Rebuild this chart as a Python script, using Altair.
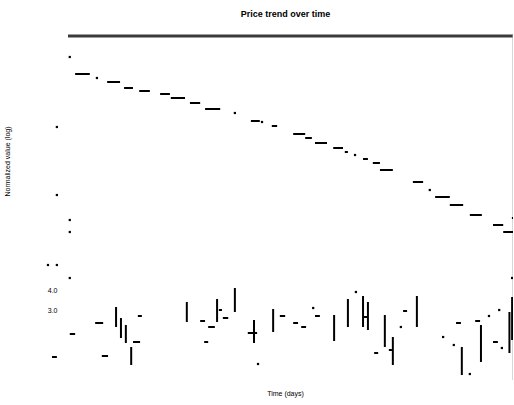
import altair as alt
import pandas as pd

# Falling trend, drawn as short horizontal steps
trend_x1 = [1.6, 8.8, 12.6, 16.0, 20.7, 23.1, 27.4, 30.8, 41.1, 45.8, 50.6, 53.3,
            55.5, 59.6, 62.2, 66.3, 68.5, 70.1, 77.5, 82.5, 85.8, 90.3, 95.5, 97.8]
trend_x2 = [4.9, 11.7, 14.6, 18.4, 22.9, 26.3, 29.7, 34.2, 43.1, 47.0, 53.3, 54.8,
            58.2, 61.8, 62.9, 67.4, 70.1, 73.0, 79.8, 85.8, 88.8, 93.0, 97.8, 100.0]
trend_y = [14.8, 14.4, 14.1, 13.95, 13.8, 13.6, 13.35, 13.05, 12.45, 12.2, 11.8, 11.6,
           11.35, 11.1, 10.9, 10.55, 10.35, 10.0, 9.4, 8.65, 8.25, 7.75, 7.25, 6.9]

# Lower band: vertical ranges
range_x = [10.8, 11.9, 13.0, 14.2, 26.7, 33.5, 37.5, 41.8, 46.1, 59.8, 62.9, 66.3,
           67.4, 71.2, 73.0, 78.4, 88.5, 92.8, 99.2, 99.8]
range_lo = [2.15, 1.6, 1.35, 0.25, 2.4, 2.4, 2.9, 1.35, 1.9, 1.45, 2.15, 2.15,
            2.0, 1.15, 0.25, 2.15, -0.25, 0.4, 0.85, 1.5]
range_hi = [3.15, 2.6, 2.25, 1.15, 3.4, 3.55, 4.1, 2.5, 3.05, 2.75, 3.55, 3.7,
            3.4, 2.75, 1.65, 3.7, 1.15, 2.25, 2.9, 3.65]

# Lower band: short dashes
dash_x1 = [0.4, 6.1, 15.7, 14.6, 7.6, 29.7, 31.5, 33.9, 34.8, 30.6, 40.4, 47.6,
           50.6, 52.4, 55.5, 66.3, 68.8, 72.1, 75.3, 87.2, 91.5, 95.5, -3.6]
dash_x2 = [1.6, 7.9, 16.6, 16.2, 9.0, 30.8, 33.0, 34.6, 36.0, 31.5, 42.5, 48.8,
           51.7, 53.5, 56.6, 67.4, 69.7, 72.8, 76.2, 88.3, 92.6, 96.6, -2.5]
dash_y = [1.8, 2.35, 2.7, 1.4, 0.7, 2.45, 2.15, 3.0, 2.6, 1.4, 1.85, 2.7,
          2.35, 2.15, 2.7, 2.65, 0.85, 1.0, 2.95, 2.35, 2.45, 1.4, 0.65]

# Isolated points
dot_x = [0.4, 6.5, 37.5, 43.6, 64.5, 81.3, 100.0,
         0.4, 0.4, 0.4, 42.7, 55.1, 64.7, 74.8, 84.3, 86.7, 90.3, 94.6, 96.9,
         97.5, 99.8, -2.5, -2.5, -4.5, -2.5]
dot_y = [15.65, 14.6, 12.85, 12.4, 10.75, 9.0, 7.6,
         4.6, 7.5, 6.9, 0.3, 3.1, 3.9, 2.15, 1.65, 1.25, -0.2, 2.7, 3.0,
         1.1, 4.6, 12.15, 8.75, 5.25, 5.25]

ceiling_y = 16.7
x_domain = [0, 100]
y_domain = [-0.5, 16.75]
y_tick_values = [3, 4]

trend = pd.DataFrame({"x1": trend_x1, "x2": trend_x2, "y": trend_y})
ranges = pd.DataFrame({"x": range_x, "lo": range_lo, "hi": range_hi})
dashes = pd.DataFrame({"x1": dash_x1, "x2": dash_x2, "y": dash_y})
dots = pd.DataFrame({"x": dot_x, "y": dot_y})
ceiling = pd.DataFrame({"x1": [x_domain[0]], "x2": [x_domain[1]], "y": [ceiling_y]})
edge = pd.DataFrame({"x": [x_domain[1]], "lo": [y_domain[0]], "hi": [y_domain[1]]})

FONT = "Liberation Sans"
xs = alt.Scale(domain=x_domain, nice=False, zero=False)
ys = alt.Scale(domain=y_domain, nice=False, zero=False)
xa = alt.Axis(labels=False, ticks=False, domain=False, grid=False,
              title="Time (days)", titleFontSize=7, titleFont=FONT, titleColor="black",
              titleFontWeight="normal", titlePadding=9, titleX=217)
ya = alt.Axis(values=y_tick_values, format=".1f", labelFontSize=7, labelFont=FONT,
              labelColor="black", ticks=False, tickSize=0, domain=False, grid=False,
              labelPadding=11, title="Normalized value (log)", titleFontSize=7,
              titleFont=FONT, titleColor="black", titleFontWeight="normal",
              titleX=-58, titleY=126)

ceiling_line = alt.Chart(ceiling).mark_rule(color="#3a3a3a", strokeWidth=3).encode(
    x=alt.X("x1:Q", scale=xs, axis=xa), x2="x2:Q",
    y=alt.Y("y:Q", scale=ys, axis=ya))

edge_line = alt.Chart(edge).mark_rule(color="#b0b0b0", strokeWidth=1).encode(
    x=alt.X("x:Q", scale=xs, axis=xa),
    y=alt.Y("lo:Q", scale=ys, axis=ya), y2="hi:Q")

trend_steps = alt.Chart(trend).mark_rule(color="black", strokeWidth=2).encode(
    x=alt.X("x1:Q", scale=xs, axis=xa), x2="x2:Q",
    y=alt.Y("y:Q", scale=ys, axis=ya))

range_bars = alt.Chart(ranges).mark_rule(color="black", strokeWidth=2).encode(
    x=alt.X("x:Q", scale=xs, axis=xa),
    y=alt.Y("lo:Q", scale=ys, axis=ya), y2="hi:Q")

dash_marks = alt.Chart(dashes).mark_rule(color="black", strokeWidth=2).encode(
    x=alt.X("x1:Q", scale=xs, axis=xa), x2="x2:Q",
    y=alt.Y("y:Q", scale=ys, axis=ya))

dot_marks = alt.Chart(dots).mark_square(color="black", size=5, opacity=1).encode(
    x=alt.X("x:Q", scale=xs, axis=xa),
    y=alt.Y("y:Q", scale=ys, axis=ya))

chart = alt.layer(
    ceiling_line, edge_line, trend_steps, range_bars, dash_marks, dot_marks
).properties(
    width=445, height=345,
    background="white",
    title=alt.TitleParams("Price trend over time", fontSize=9, fontWeight="bold",
                          font=FONT, color="black", anchor="middle", offset=16, dx=-5),
    autosize=alt.AutoSizeParams(type="none"),
    padding={"left": 68, "top": 35, "right": 0, "bottom": 25},
).configure_view(stroke=None)

chart.save("out.html", embed_options={"renderer": "svg", "actions": False})
